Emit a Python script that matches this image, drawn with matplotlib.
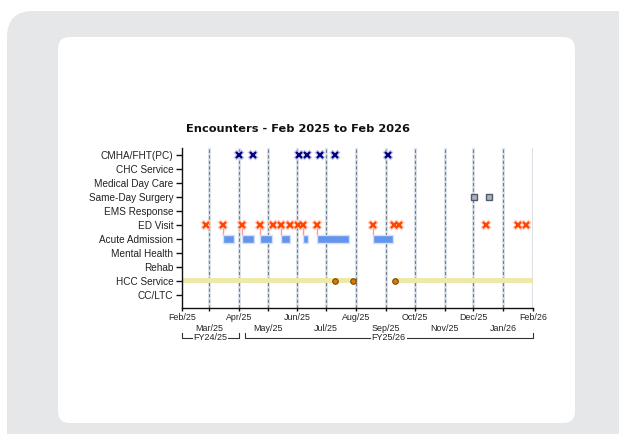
import matplotlib
matplotlib.use("Agg")
import matplotlib.pyplot as plt
import matplotlib.dates as mdates
from matplotlib.patches import FancyBboxPatch
from matplotlib.transforms import IdentityTransform, blended_transform_factory
import pandas as pd

# ---------------- data ----------------
categories = ['CMHA/FHT(PC)', 'CHC Service', 'Medical Day Care', 'Same-Day Surgery',
              'EMS Response', 'ED Visit', 'Acute Admission', 'Mental Health',
              'Rehab', 'HCC Service', 'CC/LTC']

cmha_dates = ['2025-04-01', '2025-04-16', '2025-06-03', '2025-06-11',
              '2025-06-24', '2025-07-10', '2025-09-03']
ed_dates = ['2025-02-26', '2025-03-16', '2025-04-04', '2025-04-23', '2025-05-07',
            '2025-05-15', '2025-05-24', '2025-06-02', '2025-06-07', '2025-06-21',
            '2025-08-19', '2025-09-09', '2025-09-15', '2025-12-14', '2026-01-16',
            '2026-01-25']
admit_start = ['2025-03-16', '2025-04-04', '2025-04-23', '2025-05-15',
               '2025-06-07', '2025-06-21', '2025-08-19']
admit_end = ['2025-03-27', '2025-04-17', '2025-05-06', '2025-05-24',
             '2025-06-12', '2025-07-25', '2025-09-08']
sds_dates = ['2025-12-02', '2025-12-17']
hcc_start = ['2025-01-15', '2025-09-10']
hcc_end = ['2025-07-29', '2026-02-01']
hcc_events = ['2025-07-10', '2025-07-29', '2025-09-10']

month_ticks = pd.date_range('2025-02-01', '2026-02-01', freq='MS')
month_labels = ['Feb/25', 'Mar/25', 'Apr/25', 'May/25', 'Jun/25', 'Jul/25', 'Aug/25',
                'Sep/25', 'Oct/25', 'Nov/25', 'Dec/25', 'Jan/26', 'Feb/26']
fy_labels = ['FY24/25', 'FY25/26']
fy_start = ['2025-02-01', '2025-04-07']
fy_end = ['2025-04-01', '2026-02-01']

title = 'Encounters - Feb 2025 to Feb 2026'

# ---------------- helpers ----------------
def d(lst):
    return mdates.date2num(pd.to_datetime(lst).to_pydatetime())

row = {c: i for i, c in enumerate(categories)}

W, H = 619, 434
fig = plt.figure(figsize=(W / 100, H / 100), dpi=100)
fig.patch.set_facecolor('white')

# background panels (pixel coordinates)
outer = FancyBboxPatch((7, -40), 700, 423 + 40, boxstyle='round,pad=0,rounding_size=26',
                       transform=IdentityTransform(), facecolor='#e6e7e9',
                       edgecolor='none', zorder=-10)
inner = FancyBboxPatch((58, 434 - 423), 575 - 58, 423 - 37,
                       boxstyle='round,pad=0,rounding_size=12',
                       transform=IdentityTransform(), facecolor='white',
                       edgecolor='none', zorder=-9)
fig.patches.extend([outer, inner])

ax_left, ax_right, ax_top, ax_bottom = 182, 533, 148, 307.5
ax = fig.add_axes([ax_left / W, (H - ax_bottom) / H,
                   (ax_right - ax_left) / W, (ax_bottom - ax_top) / H])
ax.set_facecolor('none')

x0, x1 = d(['2025-02-01', '2026-02-01'])
ax.set_xlim(x0, x1)
ax.set_ylim(10.93, -0.5)

# gridlines (month boundaries)
for m in d(month_ticks[1:]):
    ax.axvline(m, color='#dfe4ea', lw=2.2, zorder=1)
    ax.axvline(m, color='#6f7f92', lw=0.8, ls=(0, (3, 2)), zorder=1.1)

# HCC service bands
hs, he = d(hcc_start), d(hcc_end)
ax.barh([row['HCC Service']] * len(hs), he - hs, left=hs, height=0.42,
        color='#eee8aa', edgecolor='none', zorder=2)
ax.plot(d(hcc_events), [row['HCC Service']] * len(hcc_events), 'o', ms=4,
        mfc='#e07800', mec='#6b4a10', mew=0.8, zorder=5)

# Acute admissions
as_, ae = d(admit_start), d(admit_end)
ax.barh([row['Acute Admission']] * len(as_), ae - as_, left=as_, height=0.6,
        color='#6495ed', edgecolor='#d2e0fa', lw=1.0, zorder=3)
# connectors from ED visit to admission
for s in as_:
    ax.plot([s, s], [row['ED Visit'], row['Acute Admission'] - 0.3],
            color='#ff9a9a', lw=1.0, zorder=2.5)

# ED visits
ed = d(ed_dates)
ax.plot(ed, [row['ED Visit']] * len(ed), 'x', ms=5.5, mew=3, color='#ffc9b8',
        zorder=4)
ax.plot(ed, [row['ED Visit']] * len(ed), 'x', ms=4.5, mew=1.6, color='#ff4500',
        zorder=4.1)

# CMHA/FHT(PC)
cm = d(cmha_dates)
ax.plot(cm, [row['CMHA/FHT(PC)']] * len(cm), 'x', ms=5.5, mew=3, color='#c5c8e8',
        zorder=4)
ax.plot(cm, [row['CMHA/FHT(PC)']] * len(cm), 'x', ms=4.5, mew=1.6, color='#000080',
        zorder=4.1)

# Same-day surgery
sd = d(sds_dates)
ax.plot(sd, [row['Same-Day Surgery']] * len(sd), 's', ms=4.5, mfc='#a8b3c6',
        mec='#555b66', mew=1.0, zorder=4)

# axes styling
for s in ['top', 'right']:
    ax.spines[s].set_visible(False)
for s in ['left', 'bottom']:
    ax.spines[s].set_color('#111111')
    ax.spines[s].set_linewidth(1.0)

tick_font = 'Liberation Sans'
ax.set_yticks(range(len(categories)))
ax.set_yticklabels(categories, fontfamily=tick_font, fontsize=7.2, color='#222222')
ax.tick_params(axis='y', length=4.3, width=1.0, pad=2, color='#111111')

ax.set_xticks(d(month_ticks))
xl = [lab if i % 2 == 0 else '\n' + lab for i, lab in enumerate(month_labels)]
ax.set_xticklabels(xl, fontfamily=tick_font, fontsize=6.4, color='#222222',
                   linespacing=1.25)
ax.tick_params(axis='x', length=2.3, width=1.0, pad=1.5, color='#111111')

# fiscal year brackets
tr = blended_transform_factory(ax.transData, ax.transAxes)
ah = ax_bottom - ax_top
y_line = -(338 - ax_bottom) / ah
y_tick = -(333 - ax_bottom) / ah
for lab, s, e in zip(fy_labels, d(fy_start), d(fy_end)):
    ax.plot([s, s, e, e], [y_tick, y_line, y_line, y_tick], color='#333333',
            lw=0.8, transform=tr, clip_on=False)
    ax.text((s + e) / 2, y_line, lab, transform=tr, ha='center', va='center',
            fontfamily=tick_font, fontsize=6.5, color='#222222',
            bbox=dict(facecolor='white', edgecolor='none', pad=0.6))

fig.text(298.5 / W, 1 - 129.5 / H, title, ha='center', va='center',
         fontfamily='DejaVu Sans', fontweight='bold', fontsize=8.2, color='#111111')

fig.savefig('out.png', dpi=100)
